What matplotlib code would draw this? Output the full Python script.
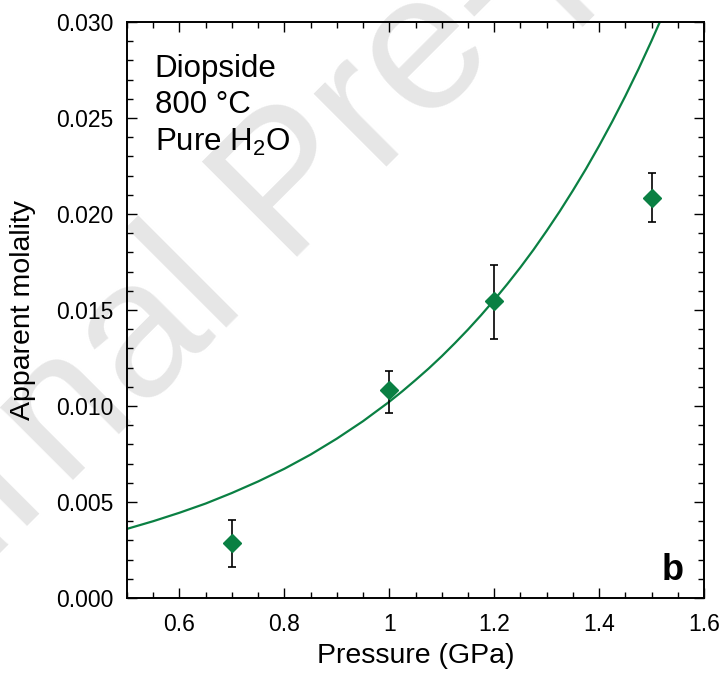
import numpy as np
import matplotlib
matplotlib.use('Agg')
from matplotlib import pyplot as plt
from matplotlib.ticker import MultipleLocator, FixedFormatter, FixedLocator

plt.rcParams['font.family'] = ['Liberation Sans', 'DejaVu Sans']
plt.rcParams['mathtext.fontset'] = 'custom'
plt.rcParams['mathtext.rm'] = 'Liberation Sans'

# measured points (pressure in GPa, apparent molality, error bar low/high)
pressure = [0.7, 1.0, 1.2, 1.5]
molality = [0.00286, 0.01083, 0.01547, 0.02083]
err_low = [0.00125, 0.00119, 0.00198, 0.00125]
err_high = [0.00120, 0.00099, 0.00187, 0.00131]

# model curve
curve_p = [0.50, 0.55, 0.60, 0.65, 0.70, 0.75, 0.80, 0.85, 0.90, 0.95, 1.00,
           1.025, 1.05, 1.075, 1.10, 1.125, 1.15, 1.175, 1.20, 1.225, 1.25,
           1.275, 1.30, 1.325, 1.35, 1.375, 1.40, 1.425, 1.45, 1.475, 1.50,
           1.525]
curve_m = [0.00360, 0.00400, 0.00444, 0.00492, 0.00547, 0.00607, 0.00673,
           0.00747, 0.00830, 0.00921, 0.01022, 0.01077, 0.01135, 0.01195,
           0.01259, 0.01327, 0.01398, 0.01473, 0.01552, 0.01635, 0.01722,
           0.01814, 0.01912, 0.02014, 0.02122, 0.02235, 0.02355, 0.02481,
           0.02614, 0.02754, 0.02902, 0.03057]

xticks = [0.6, 0.8, 1.0, 1.2, 1.4, 1.6]
xticklabels = ['0.6', '0.8', '1', '1.2', '1.4', '1.6']
yticks = [0.000, 0.005, 0.010, 0.015, 0.020, 0.025, 0.030]
yticklabels = ['0.000', '0.005', '0.010', '0.015', '0.020', '0.025', '0.030']

green = '#0a8043'

fig = plt.figure(figsize=(7.23, 6.81), dpi=100)

# watermark behind the plot
fig.text(-0.281, -0.111, 'Journal Pre-proof', fontsize=140, color='#e6e6e6',
         rotation=45, rotation_mode='anchor', ha='left', va='baseline',
         zorder=-5)

ax = fig.add_axes([0.1757, 0.1219, 0.7980, 0.8458])
ax.set_facecolor('none')

ax.plot(curve_p, curve_m, color=green, lw=1.6, zorder=2)
ax.errorbar(pressure, molality, yerr=[err_low, err_high], fmt='none',
            ecolor='black', elinewidth=1.2, capsize=2.6, capthick=1.2, zorder=3)
ax.plot(pressure, molality, 'D', color=green, ms=9, mec=green, zorder=4)

ax.set_xlim(0.5, 1.6)
ax.set_ylim(0, 0.030)
ax.xaxis.set_major_locator(FixedLocator(xticks))
ax.xaxis.set_major_formatter(FixedFormatter(xticklabels))
ax.xaxis.set_minor_locator(MultipleLocator(0.05))
ax.yaxis.set_major_locator(FixedLocator(yticks))
ax.yaxis.set_major_formatter(FixedFormatter(yticklabels))
ax.yaxis.set_minor_locator(MultipleLocator(0.001))

ax.tick_params(which='both', direction='in', top=True, right=True, width=1.0,
               labelsize=16.5)
ax.tick_params(which='major', length=7.5)
ax.tick_params(which='minor', length=4)
ax.tick_params(axis='x', pad=11)
ax.tick_params(axis='y', pad=10)
for s in ax.spines.values():
    s.set_linewidth(1.4)

ax.set_xlabel('Pressure (GPa)', fontsize=20.5, labelpad=5)
ax.set_ylabel('Apparent molality', fontsize=20.5, labelpad=14)

ax.text(0.048, 0.905, 'Diopside', transform=ax.transAxes, fontsize=22.5)
ax.text(0.048, 0.842, '800 °C', transform=ax.transAxes, fontsize=22.5)
ax.text(0.048, 0.776, 'Pure H$_2$O', transform=ax.transAxes, fontsize=22.5)
ax.text(0.965, 0.031, 'b', transform=ax.transAxes, fontsize=26,
        fontweight='bold', ha='right', va='baseline')

fig.savefig('out.png', dpi=100)
